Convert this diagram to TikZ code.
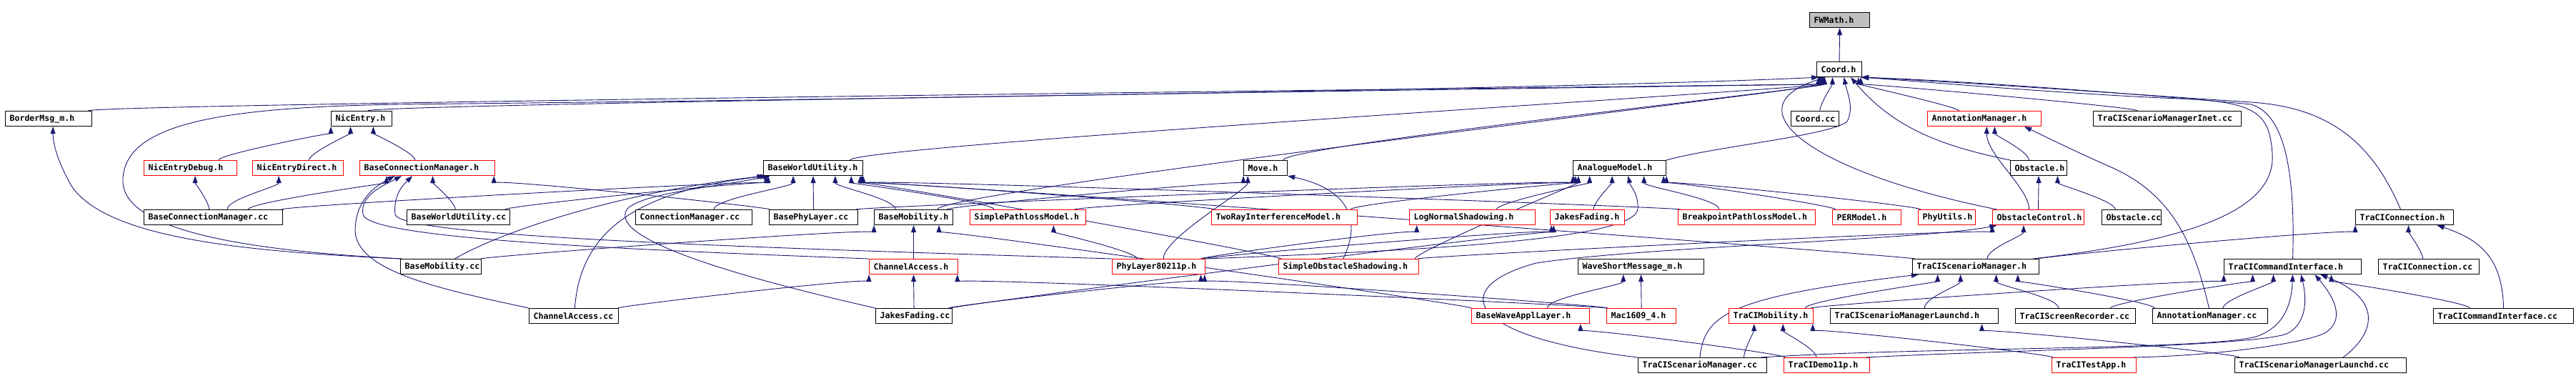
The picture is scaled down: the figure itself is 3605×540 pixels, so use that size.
\documentclass[tikz,border=0pt]{standalone}
\usepackage{fontspec}
\setmonofont{DejaVu Sans Mono}
\usetikzlibrary{arrows.meta,calc}
\pgfdeclarelayer{edgelayer}
\pgfsetlayers{edgelayer,main}
\definecolor{edgec}{RGB}{25,25,112}
\definecolor{boxred}{RGB}{255,0,0}
\definecolor{fwgray}{RGB}{191,191,191}
\tikzset{
  fn/.style={draw=black, fill=white, line width=1.1pt, anchor=north west, minimum height=21pt,
    inner xsep=6pt, inner ysep=0pt, align=left,
    font=\ttfamily\bfseries\fontsize{11.6}{13}\selectfont},
  fnr/.style={fn, draw=boxred},
  edge/.style={draw=edgec, line width=0.9pt, -{Triangle[length=10pt,width=7pt]}},
}
\newcommand{\fnode}[6]{\pgfmathsetmacro{\fnw}{#5-12}\node[#1, text width=\fnw pt] (#2) at (#3,#4) {#6};}
\newcommand{\dep}[6]{\draw[edge] ($(#1.north west)!#2!(#1.north east)$) .. controls +(0,-#5) and +(0,#6) .. ($(#3.south west)!#4!(#3.south east)$);}
\begin{document}
\begin{tikzpicture}[x=1pt,y=-1pt]
\useasboundingbox (0,0) rectangle (3605,540);
% row 0-1
\fnode{fn, fill=fwgray}{fw}{2532}{17}{84}{FWMath.h}
\fnode{fn}{coord}{2542}{86}{63}{Coord.h}
% row 2
\fnode{fn}{border}{7}{155}{121}{BorderMsg\_m.h}
\fnode{fn}{nic}{463}{155}{85}{NicEntry.h}
\fnode{fn}{coordcc}{2506}{155}{67}{Coord.cc}
\fnode{fnr}{annh}{2697}{155}{159}{AnnotationManager.h}
\fnode{fn}{inet}{2929}{155}{207}{TraCIScenarioManagerInet.cc}
% row 3
\fnode{fnr}{nicdbg}{201}{224}{130}{NicEntryDebug.h}
\fnode{fnr}{nicdir}{353}{224}{127}{NicEntryDirect.h}
\fnode{fnr}{bcmh}{503}{224}{189}{BaseConnectionManager.h}
\fnode{fn}{bwuh}{1068}{224}{139}{BaseWorldUtility.h}
\fnode{fn}{move}{1740}{224}{61}{Move.h}
\fnode{fn}{anah}{2201}{224}{130}{AnalogueModel.h}
\fnode{fn}{obsh}{2813}{224}{79}{Obstacle.h}
% row 4
\fnode{fn}{bcmcc}{201}{293}{194}{BaseConnectionManager.cc}
\fnode{fn}{bwucc}{569}{293}{144}{BaseWorldUtility.cc}
\fnode{fn}{cmcc}{889}{293}{163}{ConnectionManager.cc}
\fnode{fn}{bplcc}{1076}{293}{124}{BasePhyLayer.cc}
\fnode{fn}{bmh}{1223}{293}{110}{BaseMobility.h}
\fnode{fnr}{spm}{1357}{293}{162}{SimplePathlossModel.h}
\fnode{fnr}{tray}{1695}{293}{204}{TwoRayInterferenceModel.h}
\fnode{fnr}{lns}{1972}{293}{176}{LogNormalShadowing.h}
\fnode{fnr}{jfh}{2169}{293}{104}{JakesFading.h}
\fnode{fnr}{bpm}{2348}{293}{192}{BreakpointPathlossModel.h}
\fnode{fnr}{per}{2564}{293}{96}{PERModel.h}
\fnode{fnr}{phyu}{2684}{293}{80}{PhyUtils.h}
\fnode{fnr}{obsc}{2788}{293}{128}{ObstacleControl.h}
\fnode{fn}{obscc}{2941}{293}{83}{Obstacle.cc}
\fnode{fn}{tcon}{3296}{293}{137}{TraCIConnection.h}
% row 5
\fnode{fn}{bmcc}{560}{362}{113}{BaseMobility.cc}
\fnode{fnr}{cah}{1216}{362}{124}{ChannelAccess.h}
\fnode{fnr}{phy80}{1556}{362}{130}{PhyLayer80211p.h}
\fnode{fnr}{sos}{1789}{362}{196}{SimpleObstacleShadowing.h}
\fnode{fn}{wsm}{2208}{362}{176}{WaveShortMessage\_m.h}
\fnode{fn}{tsmh}{2676}{362}{177}{TraCIScenarioManager.h}
\fnode{fn}{tcih}{3112}{362}{192}{TraCICommandInterface.h}
\fnode{fn}{tconcc}{3328}{362}{141}{TraCIConnection.cc}
% row 6
\fnode{fn}{cacc}{740}{431}{125}{ChannelAccess.cc}
\fnode{fn}{jfcc}{1225}{431}{107}{JakesFading.cc}
\fnode{fnr}{bwal}{2059}{431}{165}{BaseWaveApplLayer.h}
\fnode{fnr}{mac}{2248}{431}{97}{Mac1609\_4.h}
\fnode{fnr}{tmob}{2419}{431}{118}{TraCIMobility.h}
\fnode{fn}{tsmlh}{2561}{431}{235}{TraCIScenarioManagerLaunchd.h}
\fnode{fn}{tscr}{2820}{431}{168}{TraCIScreenRecorder.cc}
\fnode{fn}{anncc}{3012}{431}{161}{AnnotationManager.cc}
\fnode{fn}{tcicc}{3405}{431}{196}{TraCICommandInterface.cc}
% row 7
\fnode{fn}{tsmcc}{2292}{500}{180}{TraCIScenarioManager.cc}
\fnode{fnr}{demo}{2496}{500}{120}{TraCIDemo11p.h}
\fnode{fnr}{test}{2871}{500}{118}{TraCITestApp.h}
\fnode{fn}{tsmlcc}{3127}{500}{240}{TraCIScenarioManagerLaunchd.cc}

\begin{pgfonlayer}{edgelayer}
% ---- edges into FWMath.h / Coord.h
\dep{coord}{0.5}{fw}{0.5}{15}{15}
\dep{border}{0.95}{coord}{0.04}{10}{10}
\dep{nic}{0.6}{coord}{0.08}{10}{10}
\dep{bwuh}{0.87}{coord}{0.12}{20}{15}
\dep{move}{0.9}{coord}{0.15}{20}{15}
\dep{bmh}{0.8}{coord}{0.18}{25}{15}
\dep{coordcc}{0.6}{coord}{0.35}{10}{10}
\dep{annh}{0.28}{coord}{0.92}{5}{10}
\dep{inet}{0.3}{coord}{0.97}{5}{8}
\draw[edge] (anah.north east) .. controls (2400,205) and (2560,190) .. (2585,170) .. controls (2595,150) and (2585,130) .. ($(coord.south west)!0.6!(coord.south east)$);
\draw[edge] (obsh.north west) .. controls (2720,205) and (2650,180) .. ($(coord.south west)!0.75!(coord.south east)$);
\draw[edge] ($(obsc.north west)!0.05!(obsc.north east)$) .. controls (2530,240) and (2420,150) .. ($(coord.south west)!0.2!(coord.south east)$);
\draw[edge] ($(tcon.north west)!0.46!(tcon.north east)$) .. controls (3320,200) and (3260,150) .. (3150,143) .. controls (3000,133) and (2750,115) .. ($(coord.south west)!0.97!(coord.south east)$);
\draw[edge] ($(tcih.north west)!0.5!(tcih.north east)$) .. controls (3212,250) and (3200,160) .. (3150,146) .. controls (3000,132) and (2750,113) .. ($(coord.south west)!0.98!(coord.south east)$);
\draw[edge] ($(tsmh.north west)!0.95!(tsmh.north east)$) .. controls (3080,335) and (3185,290) .. (3180,215) .. controls (3176,160) and (3160,142) .. (3050,138) .. controls (2900,132) and (2700,115) .. ($(coord.south west)!0.99!(coord.south east)$);
\draw[edge] ($(bmcc.north west)!0.03!(bmcc.north east)$) .. controls (330,350) and (168,320) .. (172,250) .. controls (176,175) and (300,150) .. (560,146) .. controls (1500,136) and (2300,120) .. ($(coord.south west)!0.05!(coord.south east)$);

% ---- BaseWorldUtility.h
\dep{bcmcc}{0.99}{bwuh}{0.03}{5}{5}
\dep{bwucc}{0.95}{bwuh}{0.05}{5}{5}
\dep{cmcc}{0.67}{bwuh}{0.3}{15}{15}
\dep{bplcc}{0.5}{bwuh}{0.5}{10}{10}
\dep{bmh}{0.27}{bwuh}{0.72}{15}{15}
\dep{spm}{0.21}{bwuh}{0.88}{10}{10}
\dep{tray}{0.02}{bwuh}{0.97}{5}{5}
\dep{sos}{0.02}{bwuh}{0.98}{5}{5}
\dep{bpm}{0.02}{bwuh}{0.99}{3}{3}
\dep{tsmh}{0.02}{bwuh}{1.0}{3}{3}
\draw[edge] ($(cacc.north west)!0.51!(cacc.north east)$) .. controls (812,330) and (880,268) .. ($(bwuh.south west)!0.04!(bwuh.south east)$);
\draw[edge] (jfcc.north west) .. controls (1000,380) and (850,330) .. (878,292) .. controls (900,270) and (1000,262) .. ($(bwuh.south west)!0.07!(bwuh.south east)$);
\draw[edge] ($(bmcc.north west)!0.67!(bmcc.north east)$) .. controls (700,325) and (860,270) .. ($(bwuh.south west)!0.01!(bwuh.south east)$);

% ---- BaseConnectionManager.h
\dep{bcmcc}{0.75}{bcmh}{0.2}{10}{10}
\dep{bwucc}{0.47}{bcmh}{0.54}{10}{10}
\dep{bplcc}{0.01}{bcmh}{0.99}{3}{3}
\draw[edge] (cacc.north west) .. controls (620,405) and (495,380) .. (497,320) .. controls (499,275) and (530,258) .. ($(bcmh.south west)!0.26!(bcmh.south east)$);
\draw[edge] (cah.north west) .. controls (900,350) and (515,335) .. (508,300) .. controls (503,272) and (540,258) .. ($(bcmh.south west)!0.31!(bcmh.south east)$);
\draw[edge] (phy80.north west) .. controls (1000,345) and (560,330) .. (553,300) .. controls (550,272) and (565,258) .. ($(bcmh.south west)!0.39!(bcmh.south east)$);

% ---- NicEntry family
\dep{nicdbg}{0.8}{nic}{0.0}{8}{8}
\dep{nicdir}{0.62}{nic}{0.32}{10}{10}
\dep{bcmh}{0.41}{nic}{0.69}{10}{10}
\dep{bcmcc}{0.47}{nicdbg}{0.55}{10}{10}
\dep{bcmcc}{0.6}{nicdir}{0.29}{15}{15}
\draw[edge] (bmcc.north west) .. controls (350,352) and (150,335) .. (100,260) .. controls (80,225) and (74,200) .. ($(border.south west)!0.55!(border.south east)$);

% ---- BaseMobility.h, Move.h
\dep{bmcc}{0.99}{bmh}{0.0}{3}{3}
\dep{cah}{0.5}{bmh}{0.5}{10}{10}
\dep{bwal}{0.0}{bmh}{0.82}{4}{4}
\dep{bmh}{0.92}{move}{0.0}{5}{5}
\dep{phy80}{0.55}{move}{0.1}{30}{20}
\draw[edge] ($(sos.north west)!0.46!(sos.north east)$) .. controls (1905,310) and (1890,265) .. (move.south east);

% ---- AnalogueModel.h
\dep{lns}{0.69}{anah}{0.18}{10}{10}
\dep{jfh}{0.58}{anah}{0.42}{10}{10}
\dep{bpm}{0.3}{anah}{0.76}{15}{15}
\dep{per}{0.05}{anah}{0.97}{5}{5}
\dep{phyu}{0.05}{anah}{1.0}{5}{5}
\dep{spm}{0.9}{anah}{0.0}{5}{5}
\dep{tray}{0.95}{anah}{0.03}{8}{8}
\dep{sos}{0.97}{anah}{0.06}{10}{10}
\dep{bplcc}{0.97}{anah}{0.01}{3}{3}
\draw[edge] (phy80.north east) .. controls (2000,350) and (2290,335) .. (2292,292) .. controls (2293,270) and (2282,262) .. ($(anah.south west)!0.59!(anah.south east)$);

% ---- shadowing / fading / channel access
\dep{phy80}{0.95}{lns}{0.06}{3}{3}
\dep{phy80}{0.97}{jfh}{0.02}{3}{3}
\dep{jfcc}{0.97}{jfh}{0.05}{3}{3}
\dep{jfcc}{0.95}{phy80}{0.95}{3}{3}
\dep{jfcc}{0.5}{cah}{0.5}{10}{10}
\dep{cacc}{0.99}{cah}{0.0}{3}{3}
\dep{mac}{0.0}{cah}{0.99}{3}{3}
\dep{mac}{0.02}{phy80}{0.99}{3}{3}
\dep{phy80}{0.27}{spm}{0.72}{10}{10}
\dep{sos}{0.99}{obsc}{0.0}{3}{3}
\dep{bwal}{0.64}{wsm}{0.36}{15}{15}
\dep{mac}{0.5}{wsm}{0.5}{10}{10}
\dep{demo}{0.02}{bwal}{0.92}{5}{5}

% ---- TraCIScenarioManager.h
\draw[edge] ($(tsmcc.north west)!0.48!(tsmcc.north east)$) .. controls (2385,440) and (2420,415) .. ($(tsmh.south west)!0.05!(tsmh.south east)$);
\dep{tmob}{0.9}{tsmh}{0.2}{10}{10}
\dep{tsmlh}{0.56}{tsmh}{0.38}{15}{15}
\dep{tscr}{0.36}{tsmh}{0.66}{15}{15}
\dep{anncc}{0.02}{tsmh}{0.83}{8}{8}

% ---- Obstacles, annotations
\dep{tsmh}{0.59}{obsc}{0.34}{15}{15}
\draw[edge] (tsmcc.north west) .. controls (2040,470) and (2030,400) .. (2150,368) .. controls (2300,345) and (2700,335) .. ($(obsc.south west)!0.05!(obsc.south east)$);
\dep{obsc}{0.5}{obsh}{0.5}{10}{10}
\dep{obscc}{0.23}{obsh}{0.83}{12}{12}
\dep{obsh}{0.33}{annh}{0.59}{12}{12}
\dep{obsc}{0.4}{annh}{0.52}{30}{40}
\draw[edge] ($(anncc.north west)!0.49!(anncc.north east)$) .. controls (3070,340) and (3040,270) .. (2950,232) .. controls (2905,212) and (2870,195) .. ($(annh.south west)!0.85!(annh.south east)$);

% ---- TraCIMobility.h, Launchd
\dep{tsmcc}{0.82}{tmob}{0.3}{10}{10}
\dep{demo}{0.38}{tmob}{0.64}{12}{12}
\dep{test}{0.02}{tmob}{0.99}{4}{4}
\dep{tsmlcc}{0.03}{tsmlh}{0.9}{5}{5}

% ---- TraCICommandInterface.h
\dep{tmob}{0.97}{tcih}{0.0}{4}{4}
\dep{tscr}{0.79}{tcih}{0.21}{8}{8}
\dep{anncc}{0.61}{tcih}{0.36}{12}{12}
\dep{tcicc}{0.26}{tcih}{0.78}{8}{8}
\draw[edge] ($(tsmcc.north west)!0.95!(tsmcc.north east)$) .. controls (2700,485) and (3100,490) .. (3160,470) .. controls (3200,455) and (3207,420) .. ($(tcih.south west)!0.5!(tcih.south east)$);
\draw[edge] ($(demo.north west)!0.95!(demo.north east)$) .. controls (2800,490) and (3150,485) .. (3200,467) .. controls (3225,455) and (3230,425) .. ($(tcih.south west)!0.56!(tcih.south east)$);
\draw[edge] ($(test.north west)!0.95!(test.north east)$) .. controls (3100,498) and (3230,480) .. (3255,465) .. controls (3280,448) and (3270,420) .. ($(tcih.south west)!0.66!(tcih.south east)$);
\draw[edge] ($(tsmlcc.north west)!0.63!(tsmlcc.north east)$) .. controls (3320,470) and (3340,420) .. ($(tcih.south west)!0.7!(tcih.south east)$);

% ---- TraCIConnection.h
\dep{tconcc}{0.44}{tcon}{0.54}{10}{10}
\dep{tsmh}{0.99}{tcon}{0.0}{3}{3}
\draw[edge] ($(tcicc.north west)!0.5!(tcicc.north east)$) .. controls (3502,360) and (3470,335) .. ($(tcon.south west)!0.83!(tcon.south east)$);
\end{pgfonlayer}
\end{tikzpicture}
\end{document}
